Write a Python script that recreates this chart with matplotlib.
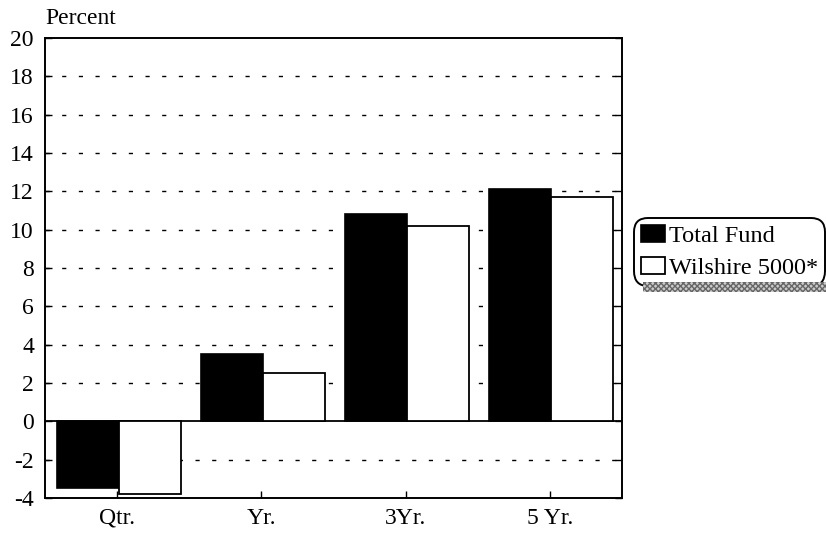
import matplotlib.pyplot as plt
import numpy as np
from matplotlib.patches import FancyBboxPatch

categories = ['Qtr.', 'Yr.', '3Yr.', '5 Yr.']
total_fund = [-3.5, 3.5, 10.8, 12.1]
wilshire = [-3.8, 2.5, 10.2, 11.7]
series_names = ['Total Fund', 'Wilshire 5000*']
yticks = np.arange(-4, 21, 2)

plt.rcParams['font.family'] = ['Liberation Serif', 'DejaVu Serif']
plt.rcParams['font.size'] = 17
plt.rcParams['axes.unicode_minus'] = False

fig = plt.figure(figsize=(8.26, 5.35), dpi=100)
ax = fig.add_axes([0.0545, 0.069, 0.6985, 0.86])

x = np.arange(len(categories))
w = 0.43
ax.bar(x - w / 2 + 0.01, total_fund, w, color='black', edgecolor='black', linewidth=1.2, zorder=3, label=series_names[0])
ax.bar(x + w / 2 + 0.01, wilshire, w, color='white', edgecolor='black', linewidth=1.3, zorder=3, label=series_names[1])

# dashed grid, no line at 0 (solid zero line instead)
for y in yticks:
    if y in (-4, 0, 20):
        continue
    ax.axhline(y, color='black', linestyle=(0, (3, 9)), linewidth=1.0, zorder=1)
ax.axhline(0, color='black', linewidth=1.3, zorder=2)

ax.set_xlim(-0.5, 3.5)
ax.set_ylim(-4, 20)
ax.set_yticks(yticks)
ax.set_xticks(x)
ax.set_xticklabels(categories)
ax.tick_params(axis='y', direction='in', right=True, length=5, width=1, pad=8)
ax.tick_params(axis='x', direction='in', length=5, width=1, pad=7)
for s in ax.spines.values():
    s.set_linewidth(1.4)

fig.text(0.0545, 0.945, 'Percent', ha='left', va='bottom', fontsize=17)

leg = ax.legend(loc='upper right', bbox_to_anchor=(0.999, 0.593), bbox_transform=fig.transFigure,
                frameon=True, fancybox=True, edgecolor='black', framealpha=1,
                handlelength=1.0, handleheight=0.7, handletextpad=0.15, borderpad=0.3,
                labelspacing=0.4, borderaxespad=0, fontsize=17.5)
leg.get_frame().set_linewidth(1.4)
leg.get_frame().set_boxstyle('round,pad=0,rounding_size=0.6')
leg.set_zorder(5)

# hatched shadow under the legend box
fig.canvas.draw()
bb = leg.get_window_extent().transformed(fig.transFigure.inverted())
shadow = FancyBboxPatch((bb.x0 + 0.012, bb.y0 - 0.012), 1.0 - bb.x0 - 0.012, 0.02,
                        boxstyle='square,pad=0', transform=fig.transFigure,
                        facecolor='#cccccc', edgecolor='#666666', hatch='xxxxxx',
                        linewidth=0, zorder=0)
fig.patches.append(shadow)

fig.savefig('out.png', dpi=100)
